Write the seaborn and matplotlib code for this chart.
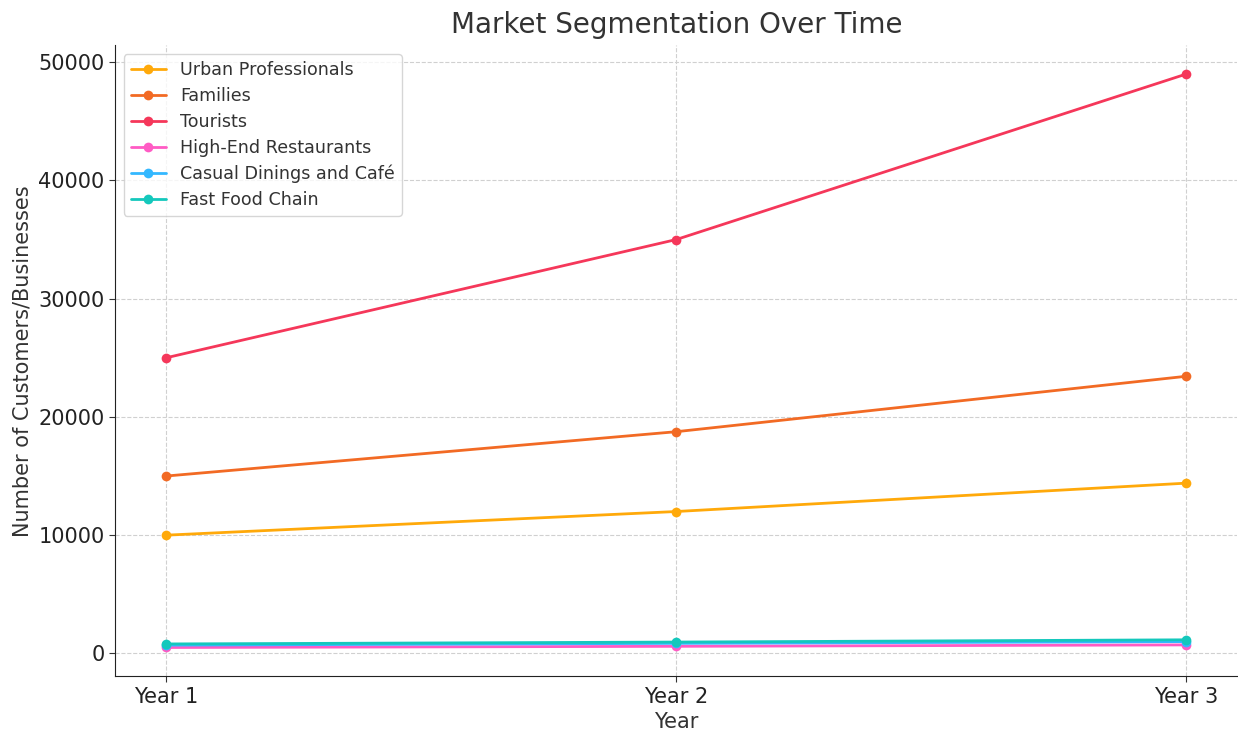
import matplotlib
matplotlib.use("Agg")
import matplotlib.pyplot as plt
import seaborn as sns
import pandas as pd

years = ["Year 1", "Year 2", "Year 3"]
urban_professionals = [10000, 12000, 14400]
families = [15000, 18750, 23437.5]
tourists = [25000, 35000, 49000]
high_end = [500, 600, 720]
casual_dining = [700, 850, 1000]
fast_food = [800, 960, 1150]

series_names = ["Urban Professionals", "Families", "Tourists",
                "High-End Restaurants", "Casual Dinings and Café", "Fast Food Chain"]
series_values = [urban_professionals, families, tourists, high_end, casual_dining, fast_food]
colors = ["#FFA90A", "#F26A24", "#F5375A", "#FF5BC4", "#33B8FF", "#14C8BC"]

rows = []
for name, vals in zip(series_names, series_values):
    for y, v in zip(years, vals):
        rows.append({"Year": y, "Value": v, "Segment": name})
df = pd.DataFrame(rows)

sns.set_style("whitegrid", {"grid.linestyle": "--", "grid.color": "#d0d0d0",
                            "axes.edgecolor": "#222222"})
plt.rcParams["font.family"] = ["DejaVu Sans"]

fig, ax = plt.subplots(figsize=(12.38, 7.31), dpi=100)
fig.subplots_adjust(left=0.093, right=0.9995, top=0.938, bottom=0.075)

sns.lineplot(data=df, x="Year", y="Value", hue="Segment", hue_order=series_names,
             palette=colors, marker="o", markersize=7, markeredgewidth=0,
             linewidth=2, ax=ax, sort=False)

ax.set_title("Market Segmentation Over Time", fontsize=20, color="#333333", pad=9)
ax.set_xlabel("Year", fontsize=15, color="#333333", labelpad=4)
ax.set_ylabel("Number of Customers/Businesses", fontsize=15, color="#333333", labelpad=4)
ax.tick_params(axis="both", labelsize=15, colors="#333333", length=4, left=True, bottom=True)
ax.tick_params(axis="both", labelcolor="#222222")
for s in ["top", "right"]:
    ax.spines[s].set_visible(False)
ax.grid(True, linestyle="--", color="#d0d0d0", linewidth=0.8)

leg = ax.legend(loc="upper left", fontsize=12.6, frameon=True, title=None,
                borderaxespad=0.5, handlelength=2.0, labelspacing=0.45)
for t in leg.get_texts():
    t.set_color("#333333")

fig.savefig("out.png", dpi=100)
